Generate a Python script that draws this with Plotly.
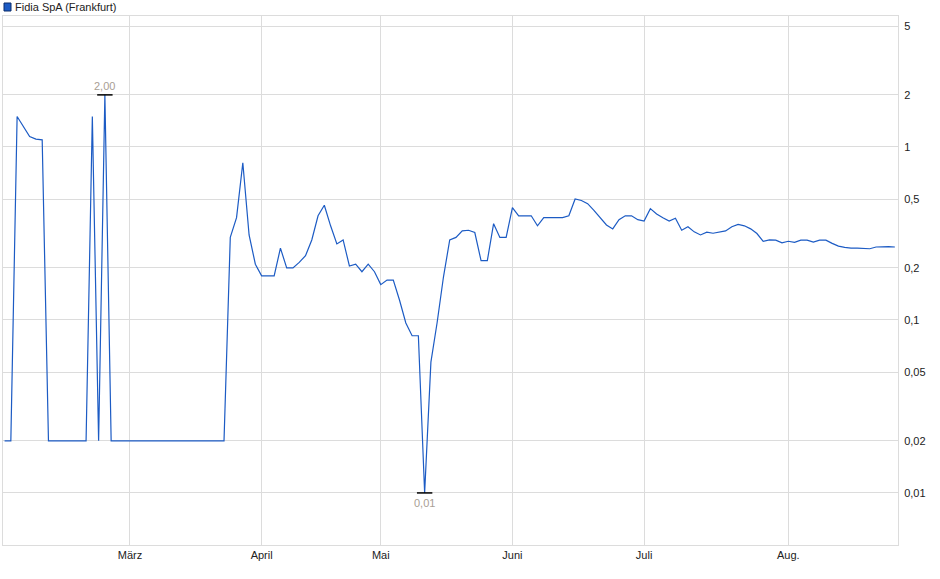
"""
Fidia SpA (Frankfurt) - price chart, log scale, German month labels
"""
import numpy as np
import pandas as pd
import plotly.graph_objects as go

# trading days shown in the chart (weekdays, minus days without quotes)
no_quote_days = ["2025-04-18", "2025-04-21", "2025-04-22", "2025-05-01"]
trade_days = [d for d in pd.bdate_range("2025-02-03", "2025-08-26")
              if d.strftime("%Y-%m-%d") not in no_quote_days]
dates = [d.strftime("%Y-%m-%d") for d in trade_days]

# closing prices in EUR
prices = [
    0.02, 0.02, 1.50, 1.31, 1.15, 1.11, 1.10,
    0.02, 0.02, 0.02, 0.02, 0.02, 0.02, 0.02,
    1.50, 0.02, 2.00,
    0.02, 0.02, 0.02, 0.02, 0.02, 0.02, 0.02, 0.02, 0.02, 0.02,
    0.02, 0.02, 0.02, 0.02, 0.02, 0.02, 0.02, 0.02, 0.02,
    0.30, 0.39, 0.81, 0.31, 0.21, 0.18, 0.18, 0.18, 0.26, 0.20,
    0.20, 0.215, 0.235, 0.29, 0.40, 0.46, 0.35, 0.275, 0.29, 0.205,
    0.21, 0.19, 0.21, 0.19, 0.16, 0.17, 0.17, 0.13, 0.096, 0.081,
    0.081, 0.01, 0.057, 0.097, 0.177, 0.29, 0.30, 0.327, 0.33, 0.32,
    0.22, 0.22, 0.36, 0.30, 0.30, 0.446, 0.40, 0.40, 0.40, 0.35,
    0.39, 0.39, 0.39, 0.39, 0.40, 0.50, 0.49, 0.47, 0.43, 0.39,
    0.354, 0.336, 0.38, 0.40, 0.40, 0.38, 0.373, 0.44, 0.41, 0.39,
    0.373, 0.387, 0.33, 0.346, 0.323, 0.31, 0.322, 0.317, 0.322, 0.327,
    0.346, 0.357, 0.35, 0.336, 0.316, 0.285, 0.29, 0.289, 0.279, 0.285,
    0.281, 0.289, 0.289, 0.282, 0.289, 0.289, 0.277, 0.267, 0.263, 0.26,
    0.26, 0.26, 0.258, 0.264, 0.265, 0.265, 0.264,
]

month_labels = ["März", "April", "Mai", "Juni", "Juli", "Aug."]
month_numbers = [3, 4, 5, 6, 7, 8]

y_ticks = [0.01, 0.02, 0.05, 0.1, 0.2, 0.5, 1, 2, 5]
y_tick_labels = ["0,01", "0,02", "0,05", "0,1", "0,2", "0,5", "1", "2", "5"]

LINE_COLOR = "#1c5bc4"
GRID_COLOR = "#dcdcdc"
FONT = "Liberation Sans, Arial, sans-serif"

# first trading day of every month gets a tick + gridline
month_ticks = []
for m in month_numbers:
    month_ticks.append(next(d for d, t in zip(dates, trade_days) if t.month == m))

fig = go.Figure()

fig.add_trace(go.Scatter(
    x=dates, y=prices, mode="lines",
    line=dict(color=LINE_COLOR, width=1.2),
    showlegend=False,
    hovertemplate="%{x}<br>%{y:.3f}<extra></extra>",
))

# high / low markers with value labels
i_max = int(np.argmax(prices))
i_min = int(np.argmin(prices))
fig.add_trace(go.Scatter(
    x=[dates[i_max], dates[i_min]], y=[prices[i_max], prices[i_min]],
    mode="markers",
    marker=dict(symbol="line-ew", size=11, line=dict(color="#000000", width=1.5)),
    showlegend=False, hoverinfo="skip",
))
for idx, shift in [(i_max, 9), (i_min, -10)]:
    fig.add_annotation(
        x=dates[idx], y=np.log10(prices[idx]),
        text=f"{prices[idx]:.2f}".replace(".", ","),
        showarrow=False, yshift=shift,
        font=dict(family=FONT, size=11, color="#a89e94"),
    )

# legend in the top-left corner: small square + series name
fig.add_shape(
    type="rect", xref="paper", yref="paper",
    xsizemode="pixel", ysizemode="pixel", xanchor=0, yanchor=1,
    x0=1, x1=8, y0=5, y1=13,
    fillcolor=LINE_COLOR, line=dict(color="#0b2d6b", width=1),
)
fig.add_annotation(
    xref="paper", yref="paper", x=0, y=1.0, xanchor="left", yanchor="bottom",
    xshift=10, yshift=1,
    text="Fidia SpA (Frankfurt)",
    showarrow=False,
    font=dict(family=FONT, size=11, color="#222222"),
)

fig.update_xaxes(
    type="category",
    range=[-0.25, len(dates) - 0.5],
    tickmode="array", tickvals=month_ticks, ticktext=month_labels,
    showgrid=True, gridcolor=GRID_COLOR, gridwidth=1,
    showline=True, linecolor=GRID_COLOR, linewidth=1, mirror=True,
    ticks="", tickfont=dict(family=FONT, size=11, color="#222222"),
    zeroline=False,
)
fig.update_yaxes(
    type="log", side="right",
    range=[np.log10(0.005), 0.757],
    tickmode="array", tickvals=y_ticks, ticktext=y_tick_labels,
    showgrid=True, gridcolor=GRID_COLOR, gridwidth=1,
    showline=True, linecolor=GRID_COLOR, linewidth=1, mirror=True,
    ticks="", ticklabelstandoff=3,
    tickfont=dict(family=FONT, size=11, color="#222222"),
    zeroline=False,
)

fig.update_layout(
    width=940, height=579,
    margin=dict(l=3, r=42, t=16, b=34),
    plot_bgcolor="white", paper_bgcolor="white",
    font=dict(family=FONT, size=11, color="#222222"),
    hovermode="closest",
)

fig.write_html("out.html", config={"displayModeBar": False},
               post_script="document.body.style.margin='0';")
